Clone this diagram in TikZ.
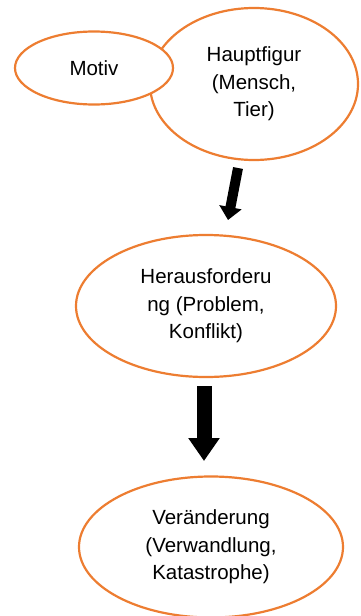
\documentclass[tikz,border=0pt]{standalone}
\usepackage{fontspec}
\setmainfont{Liberation Sans}
\usetikzlibrary{shapes.geometric}
\usetikzlibrary{arrows.meta}
\definecolor{bubbleOrange}{HTML}{ED7D31}

\begin{document}
\begin{tikzpicture}[x=1pt, y=-1pt]
            % Set styles
            \tikzset{
                bubbleNode/.style={
                        ellipse,
                        draw=bubbleOrange,
                        line width=2.2pt,
                        fill=white,
                        align=center,
                        font=\fontsize{20.5}{27.5}\selectfont
                    }
            }
            \tikzset{
                thinArrow/.style={
                        line width=10pt,
                        -{Triangle[width=22pt, length=13pt]}
                    }
            }
            \tikzset{
                wideArrow/.style={
                        line width=15pt,
                        -{Triangle[width=30pt, length=23pt]}
                    }
            }
            \useasboundingbox (0,0) rectangle (360,616);
            % Placing nodes
            \node[bubbleNode, minimum width=208, minimum height=152](hauptfigur) at (254,84){Hauptfigur\\(Mensch,\\Tier)};
            \node[bubbleNode, minimum width=158, minimum height=73](motiv) at (94,68){Motiv};
            \node[bubbleNode, minimum width=260, minimum height=142](herausforderung) at (206,306){Herausforderu\\ng (Problem,\\Konflikt)};
            \node[bubbleNode, minimum width=264, minimum height=141](veraenderung) at (211,547){Veränderung\\(Verwandlung,\\Katastrophe)};
            % Arrow ends
            \coordinate (arrowOneStart) at (238,168);
            \coordinate (arrowOneEnd) at (228,220);
            \coordinate (arrowTwoStart) at (204,386);
            \coordinate (arrowTwoEnd) at (204,461);
            % Draw arrows
            \draw[thinArrow](arrowOneStart) -- (arrowOneEnd);
            \draw[wideArrow](arrowTwoStart) -- (arrowTwoEnd);
        \end{tikzpicture}
\end{document}
